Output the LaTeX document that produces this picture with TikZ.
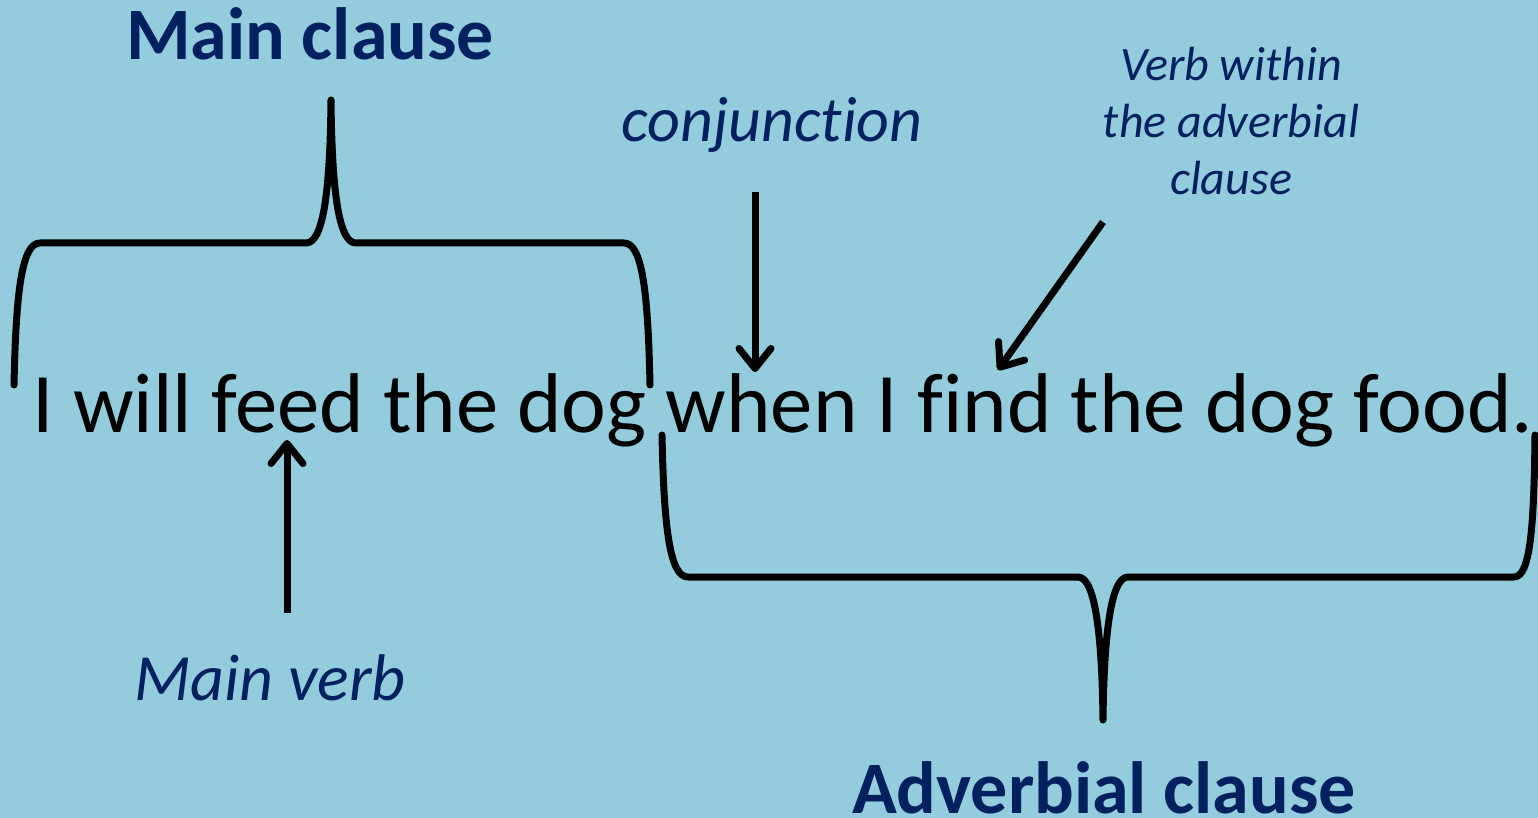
\documentclass[tikz,border=0pt]{standalone}
\usepackage{fontspec}
\setmainfont{Carlito}[Ligatures=NoCommon]
\usetikzlibrary{arrows.meta}
\definecolor{bg}{HTML}{93CDDD}
\definecolor{navy}{HTML}{002060}
\begin{document}
\begin{tikzpicture}[x=0.5pt,y=-0.5pt,
  brace/.style={line width=3.5pt,line cap=round,line join=round},
  pointer/.style={line width=3.5pt,-{Straight Barb[length=10pt,width=16pt,line cap=round,line join=round]}},
  lab/.style={text=navy,inner sep=0pt,font=\itshape},
  head/.style={text=navy,inner sep=0pt,font=\bfseries}]
\fill[bg] (0,0) rectangle (1538,818);
\useasboundingbox (0,0) rectangle (1538,818);
% texts
\node[inner sep=0pt,anchor=base,font=\fontsize{42.4}{50}\selectfont] (sent) at (783,432) {I will feed the dog when I find the dog food.};
\node[head,anchor=base,font=\bfseries\fontsize{37}{44}\selectfont] (mainc) at (310,60) {Main clause};
\node[head,anchor=base,font=\bfseries\fontsize{37}{44}\selectfont] (advc) at (1104,813) {Adverbial clause};
\node[lab,anchor=base,font=\itshape\fontsize{32}{40}\selectfont] (conj) at (772,142) {conjunction};
\node[lab,anchor=base,font=\itshape\fontsize{33}{40}\selectfont] (mverb) at (270,700) {Main verb};
\node[lab,anchor=base,align=center,font=\itshape\fontsize{24}{28.5}\selectfont] (vwithin) at (1231,195) {Verb within\\the adverbial\\clause};
% arrow coordinates
\coordinate (c1) at (755,192); \coordinate (c2) at (755,372);
\coordinate (v1) at (1103,222); \coordinate (v2) at (998,370);
\coordinate (m1) at (287,613); \coordinate (m2) at (287,440);
\draw[pointer] (c1) -- (c2);
\draw[pointer] (v1) -- (v2);
\draw[pointer] (m1) -- (m2);
% top brace
\draw[brace] (14,385) .. controls (16,290) and (22,243) .. (40,243) -- (306,243)
  .. controls (322,243) and (330,200) .. (331,100)
  .. controls (332,200) and (340,243) .. (356,243) -- (624,243)
  .. controls (642,243) and (648,290) .. (650,385);
% bottom brace
\draw[brace] (662,435) .. controls (664,530) and (670,577) .. (688,577) -- (1078,577)
  .. controls (1096,577) and (1102,640) .. (1103,720)
  .. controls (1104,640) and (1110,577) .. (1128,577) -- (1514,577)
  .. controls (1530,577) and (1534,530) .. (1535,435);
\end{tikzpicture}
\end{document}
